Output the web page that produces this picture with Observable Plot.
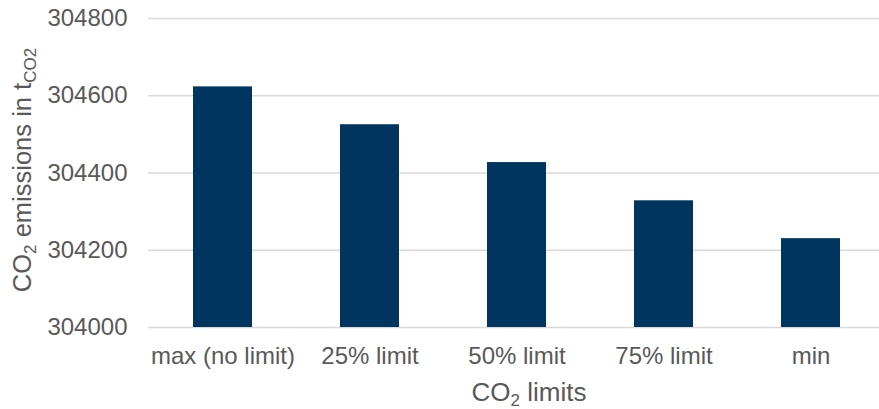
<!DOCTYPE html>
<html>
<head>
<meta charset="utf-8">
<script src="https://cdn.jsdelivr.net/npm/d3@7"></script>
<script src="https://cdn.jsdelivr.net/npm/@observablehq/plot@0.6"></script>
<style>
  html, body { margin: 0; padding: 0; background: #fff; }
  #chart svg { display: block; }
</style>
</head>
<body>
<div id="chart"></div>
<script>
// CO2 emissions (t) for each CO2 limit scenario
const categories = ["max (no limit)", "25% limit", "50% limit", "75% limit", "min"];
const emissions = [304623, 304525, 304427, 304328, 304230];
const yTicks = [304000, 304200, 304400, 304600, 304800];
const yBase = 304000;

const data = categories.map((c, i) => ({category: c, value: emissions[i]}));

const font = "'Liberation Sans', Arial, sans-serif";
const textColor = "#595959";
const gridColor = "#d9d9d9";

const chart = Plot.plot({
  width: 879,
  height: 409,
  marginLeft: 148,
  marginRight: 0,
  marginTop: 18,
  marginBottom: 82,
  style: {fontFamily: font, fontSize: "24px", color: textColor, background: "#fff"},
  // the category axis continues a little past the right edge of the drawing
  x: {domain: categories, range: [148, 885], paddingInner: 0.6, paddingOuter: 0.3, label: null, tickSize: 0, tickPadding: 19},
  y: {domain: [yBase, 304800], ticks: yTicks, tickFormat: d => String(d), label: null, tickSize: 0, tickPadding: 21},
  marks: [
    Plot.gridY(yTicks, {stroke: gridColor, strokeOpacity: 1, strokeWidth: 1.5}),
    Plot.barY(data, {x: "category", y1: yBase, y2: "value", fill: "#003560"})
  ]
});

const svg = d3.select(chart);
svg.selectAll("g[aria-label='x-axis tick label'] text, g[aria-label='y-axis tick label'] text")
  .attr("fill", textColor);

// x-axis title with subscript
const xt = svg.append("text")
  .attr("x", 529).attr("y", 401)
  .attr("text-anchor", "middle")
  .attr("font-family", font).attr("font-size", 26).attr("fill", textColor);
xt.append("tspan").text("CO");
xt.append("tspan").attr("font-size", 17).attr("dy", 5).text("2");
xt.append("tspan").attr("dy", -5).text(" limits");

// y-axis title, rotated, with subscripts
const yt = svg.append("text")
  .attr("transform", "translate(31,170) rotate(-90)")
  .attr("text-anchor", "middle")
  .attr("font-family", font).attr("font-size", 25.5).attr("fill", textColor);
yt.append("tspan").text("CO");
yt.append("tspan").attr("font-size", 17).attr("dy", 5).text("2");
yt.append("tspan").attr("dy", -5).text(" emissions in t");
yt.append("tspan").attr("font-size", 17).attr("dy", 5).text("CO2");

document.getElementById("chart").appendChild(chart);
</script>
</body>
</html>
